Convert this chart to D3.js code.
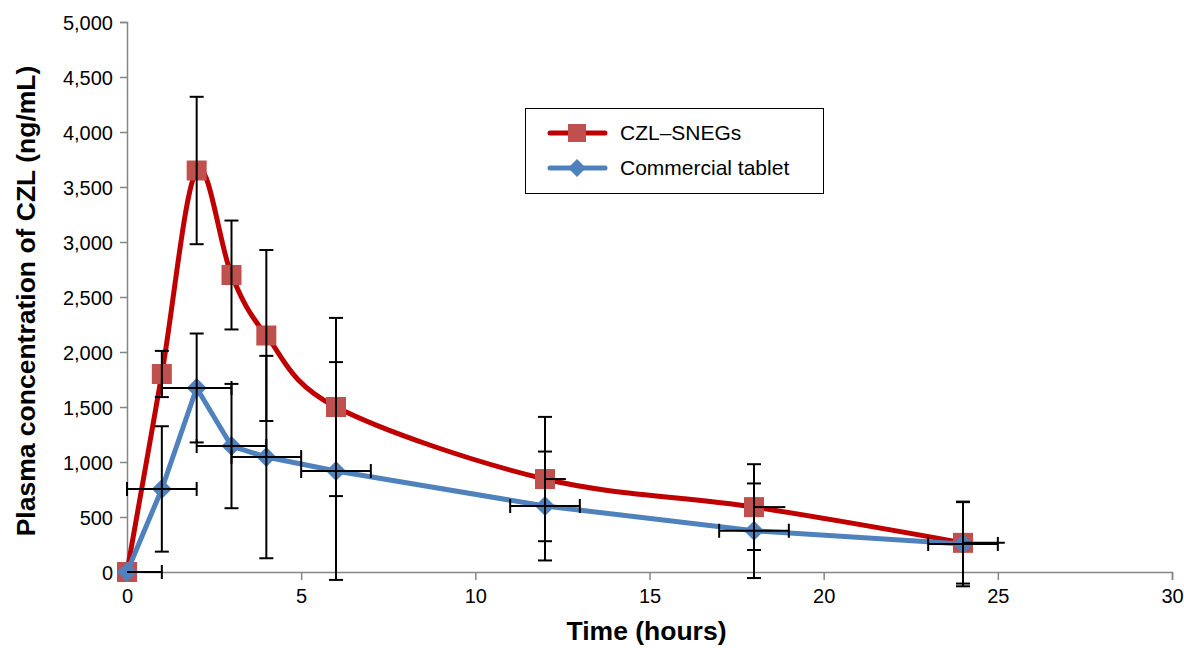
<!DOCTYPE html>
<html><head><meta charset="utf-8">
<script src="https://cdn.jsdelivr.net/npm/d3@7"></script>
<style>
html,body{margin:0;padding:0;background:#fff;}
svg{display:block;font-family:"Liberation Sans",Arial,sans-serif;}
</style></head>
<body>
<svg id="chart" width="1184" height="648"></svg>
<script>
const times = [0, 1, 2, 3, 4, 6, 12, 18, 24];
const snegValues = [0, 1800, 3650, 2700, 2150, 1500, 845, 590, 265];
const snegYErr = [0, 210, 670, 495, 777, 810, 565, 390, 370];
const snegXErr = [0, 0, 0, 0, 0, 0, 0.6, 0.9, 1.2];
const tabletValues = [0, 755, 1673, 1145, 1045, 918, 600, 375, 255];
const tabletYErr = [0, 570, 495, 565, 920, 990, 495, 430, 385];
const tabletXErr = [1, 1, 1, 1, 1, 1, 1, 1, 1];
const xTicks = [0, 5, 10, 15, 20, 25, 30];
const yTicks = [0, 500, 1000, 1500, 2000, 2500, 3000, 3500, 4000, 4500, 5000];
const seriesNames = ["CZL\u2013SNEGs", "Commercial tablet"];

const W = 1184, H = 648;
const m = {left: 127, top: 22, right: 12, bottom: 76};
const svg = d3.select("#chart");
const x = d3.scaleLinear().domain([0, 30]).range([m.left, W - m.right]);
const y = d3.scaleLinear().domain([0, 5000]).range([H - m.bottom, m.top]);

const axisColor = "#868686";
// axes
const gx = svg.append("g").attr("transform", `translate(0,${y(0)})`)
  .call(d3.axisBottom(x).tickValues(xTicks).tickSize(8).tickPadding(9).tickFormat(d3.format("d")));
const gy = svg.append("g").attr("transform", `translate(${x(0)},0)`)
  .call(d3.axisLeft(y).tickValues(yTicks).tickSize(7).tickPadding(7).tickFormat(d3.format(",")));
[gx, gy].forEach(g => {
  g.select(".domain").attr("stroke", axisColor).attr("stroke-width", 1.5);
  g.selectAll(".tick line").attr("stroke", axisColor).attr("stroke-width", 1.5);
  g.selectAll(".tick text").attr("fill", "#000").style("font-size", "20px")
    .style("font-family", "'Liberation Sans', Arial, sans-serif");
});
gy.selectAll(".tick text").attr("dy", "0.36em");

// axis titles
svg.append("text").attr("x", (x(0) + x(30)) / 2 - 3).attr("y", 640)
  .attr("text-anchor", "middle").style("font-size", "26.5px").style("font-weight", "bold")
  .text("Time (hours)");
svg.append("text").attr("transform", `translate(35,${(y(0) + y(5000)) / 2 + 4}) rotate(-90)`)
  .attr("text-anchor", "middle").style("font-size", "26.5px").style("font-weight", "bold")
  .text("Plasma concentration of CZL (ng/mL)");

const snegData = times.map((t, i) => ({t, v: snegValues[i], ey: snegYErr[i], ex: snegXErr[i]}));
const tabletData = times.map((t, i) => ({t, v: tabletValues[i], ey: tabletYErr[i], ex: tabletXErr[i]}));

const redLine = "#C00000", redMarker = "#C0504D", blue = "#4F81BD";

// lines
svg.append("path").datum(snegData)
  .attr("d", d3.line().x(d => x(d.t)).y(d => y(d.v)).curve(d3.curveCardinal.tension(0)))
  .attr("fill", "none").attr("stroke", redLine).attr("stroke-width", 5).attr("stroke-linejoin", "round");
svg.append("g").selectAll("rect").data(snegData).join("rect")
  .attr("x", d => x(d.t) - 10).attr("y", d => y(d.v) - 10).attr("width", 20).attr("height", 20)
  .attr("fill", redMarker);

svg.append("path").datum(tabletData)
  .attr("d", d3.line().x(d => x(d.t)).y(d => y(d.v)))
  .attr("fill", "none").attr("stroke", blue).attr("stroke-width", 5).attr("stroke-linejoin", "round");
const diamond = d3.symbol().type(d3.symbolSquare).size(200);
svg.append("g").selectAll("path").data(tabletData).join("path")
  .attr("transform", d => `translate(${x(d.t)},${y(d.v)}) rotate(45)`)
  .attr("d", diamond).attr("fill", blue);

// error bars
function errorBars(data, xCaps) {
  const g = svg.append("g").attr("stroke", "#000").attr("stroke-width", 2).attr("fill", "none");
  const cap = 7;
  data.forEach(d => {
    const cx = x(d.t), cy = y(d.v);
    if (d.ey > 0) {
      const y1 = y(d.v + d.ey), y2 = y(d.v - d.ey);
      g.append("line").attr("x1", cx).attr("x2", cx).attr("y1", y1).attr("y2", y2);
      g.append("line").attr("x1", cx - cap).attr("x2", cx + cap).attr("y1", y1).attr("y2", y1);
      g.append("line").attr("x1", cx - cap).attr("x2", cx + cap).attr("y1", y2).attr("y2", y2);
    }
    if (d.ex > 0) {
      if (xCaps) {
        const lo = Math.max(0, d.t - d.ex), hi = d.t + d.ex;
        g.append("line").attr("x1", x(lo)).attr("x2", x(hi)).attr("y1", cy).attr("y2", cy);
        if (d.t - d.ex >= 0)
          g.append("line").attr("x1", x(lo)).attr("x2", x(lo)).attr("y1", cy - cap).attr("y2", cy + cap);
        g.append("line").attr("x1", x(hi)).attr("x2", x(hi)).attr("y1", cy - cap).attr("y2", cy + cap);
      } else {
        g.append("line").attr("x1", cx).attr("x2", x(d.t + d.ex)).attr("y1", cy).attr("y2", cy);
      }
    }
  });
}
errorBars(snegData, false);
errorBars(tabletData, true);

// legend
const lg = svg.append("g");
lg.append("rect").attr("x", 525.5).attr("y", 108.5).attr("width", 298).attr("height", 85)
  .attr("fill", "#fff").attr("stroke", "#000").attr("stroke-width", 1);
const legendItems = [
  {name: seriesNames[0], line: redLine, marker: "square", fill: redMarker, y: 133},
  {name: seriesNames[1], line: blue, marker: "diamond", fill: blue, y: 168}
];
legendItems.forEach(it => {
  lg.append("line").attr("x1", 550).attr("x2", 605).attr("y1", it.y).attr("y2", it.y)
    .attr("stroke", it.line).attr("stroke-width", 5).attr("stroke-linecap", "round");
  if (it.marker === "square") {
    lg.append("rect").attr("x", 577 - 9).attr("y", it.y - 9).attr("width", 18).attr("height", 18).attr("fill", it.fill);
  } else {
    lg.append("path").attr("transform", `translate(577,${it.y}) rotate(45)`)
      .attr("d", d3.symbol().type(d3.symbolSquare).size(160)).attr("fill", it.fill);
  }
  lg.append("text").attr("x", 620).attr("y", it.y + 7).style("font-size", "21px").text(it.name);
});
</script>
</body></html>
